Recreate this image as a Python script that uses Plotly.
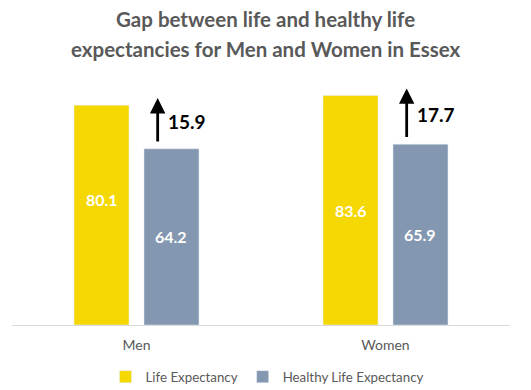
import plotly.graph_objects as go

categories = ["Men", "Women"]
life_expectancy = [80.1, 83.6]
healthy_life_expectancy = [64.2, 65.9]
series_names = ["Life Expectancy", "Healthy Life Expectancy"]
title_lines = ["Gap between life and healthy life", "expectancies for Men and Women in Essex"]

# style params
W, H = 531, 390
OFF = 8  # page body margin compensation
le_color = "#F5D701"
hle_color = "#8497B0"
text_gray = "#595959"
font_family = "Lato, 'Noto Sans', sans-serif"
le_label_frac = [0.573, 0.50]
hle_label_frac = [0.50, 0.50]
BARGAP, GROUPGAP = 0.438, 0.214


def px_x(x):
    return (x - OFF) / W


def px_y(y):
    return 1 - (y - OFF) / H


fig = go.Figure()
fig.add_trace(go.Bar(x=categories, y=life_expectancy, name=series_names[0],
                     marker=dict(color=le_color), hoverinfo="skip"))
fig.add_trace(go.Bar(x=categories, y=healthy_life_expectancy, name=series_names[1],
                     marker=dict(color=hle_color), hoverinfo="skip"))

annotations = []
slot = (1 - BARGAP) / 2  # width of one bar slot in category units
for i, cat in enumerate(categories):
    le = life_expectancy[i]
    hle = healthy_life_expectancy[i]
    annotations.append(dict(x=i - slot / 2, y=le * le_label_frac[i], xref="x", yref="y",
                            text=f"<b>{le:.1f}</b>", showarrow=False,
                            font=dict(color="white", size=16, family=font_family)))
    annotations.append(dict(x=i + slot / 2, y=hle * hle_label_frac[i], xref="x", yref="y",
                            text=f"<b>{hle:.1f}</b>", showarrow=False,
                            font=dict(color="white", size=16, family=font_family)))
    ax_x = i + 0.085
    annotations.append(dict(x=ax_x, y=le + 2.6, xref="x", yref="y",
                            ax=ax_x, ay=hle + 2.1, axref="x", ayref="y",
                            text="", showarrow=True, arrowhead=2, arrowsize=1.1,
                            arrowwidth=2.8, arrowcolor="black"))
    gap = le - hle
    annotations.append(dict(x=i + 0.118, y=(le + hle) / 2 + 2, xref="x", yref="y",
                            text=f"<b>{gap:.1f}</b>", showarrow=False, xanchor="left",
                            font=dict(color="black", size=19, family=font_family)))

for k, line in enumerate(title_lines):
    annotations.append(dict(x=px_x(265.5), y=px_y(18.5 + 31 * k), xref="paper", yref="paper",
                            yanchor="middle", text=f"<b>{line}</b>", showarrow=False,
                            font=dict(color=text_gray, size=20.5, family=font_family)))

fig.update_layout(
    width=W, height=H,
    margin=dict(l=0, r=0, t=0, b=0),
    paper_bgcolor="white", plot_bgcolor="white",
    barmode="group", bargap=BARGAP, bargroupgap=GROUPGAP,
    showlegend=True,
    legend=dict(orientation="h", x=px_x(267), xanchor="center", y=px_y(377), yanchor="middle",
                font=dict(color=text_gray, size=13.3, family=font_family),
                itemwidth=30, traceorder="normal"),
    xaxis=dict(domain=[px_x(12), px_x(510)], showline=True, linecolor="#D9D9D9", linewidth=1,
               showgrid=False, ticks="outside", ticklen=7, tickcolor="rgba(0,0,0,0)",
               tickfont=dict(color=text_gray, size=14, family=font_family)),
    yaxis=dict(domain=[px_y(325), px_y(78)], range=[0, 90], showgrid=False,
               showticklabels=False, zeroline=False, showline=False),
    annotations=annotations,
)

fig.write_html("out.html")
